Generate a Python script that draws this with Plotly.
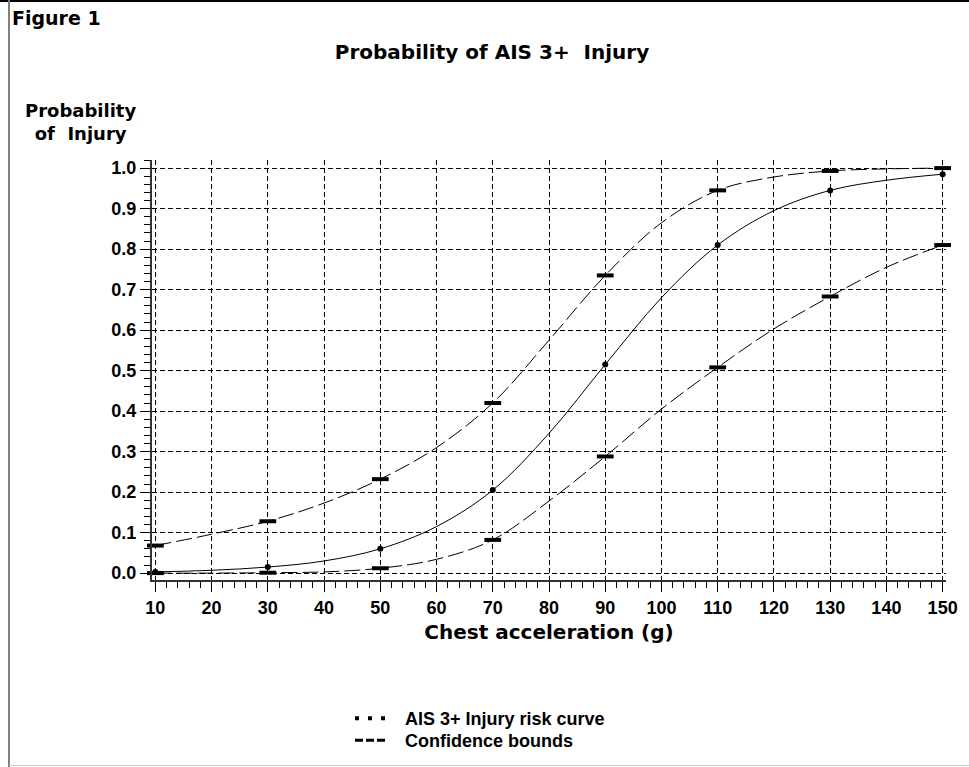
import plotly.graph_objects as go

# ---- data ----
accel = [10, 20, 30, 40, 50, 60, 70, 80, 90, 100, 110, 120, 130, 140, 150]
risk = [0.003, 0.007, 0.015, 0.030, 0.060, 0.115, 0.205, 0.345, 0.515, 0.680, 0.810, 0.895, 0.945, 0.970, 0.985]
upper = [0.068, 0.096, 0.128, 0.173, 0.232, 0.310, 0.420, 0.575, 0.735, 0.865, 0.945, 0.978, 0.993, 0.998, 1.000]
lower = [0.000, 0.000, 0.001, 0.003, 0.012, 0.034, 0.082, 0.178, 0.288, 0.405, 0.508, 0.603, 0.683, 0.755, 0.810]
x_ticks = [10, 20, 30, 40, 50, 60, 70, 80, 90, 100, 110, 120, 130, 140, 150]
y_ticks = [0.0, 0.1, 0.2, 0.3, 0.4, 0.5, 0.6, 0.7, 0.8, 0.9, 1.0]
legend_names = ["AIS 3+ Injury risk curve", "Confidence bounds"]

# markers are drawn at every other read point (10, 30, ..., 150)
mk_x = accel[::2]
mk_risk = risk[::2]
mk_upper = upper[::2]
mk_lower = lower[::2]

W, H = 969, 767
ML, MR, MT, MB = 152, 23, 160, 187
PW, PH = W - ML - MR, H - MT - MB


def px_x(p):
    return (p - ML) / PW


def px_y(p):
    return (H - MB - p) / PH


TXT = "DejaVu Sans"
NUM = "Liberation Sans"
PAD = "\u00a0\u00a0\u00a0"

fig = go.Figure()

bound_dash = "16px,5px"
for ys in (upper, lower):
    fig.add_trace(go.Scatter(x=accel, y=ys, mode="lines", line=dict(color="black", width=1, dash=bound_dash, shape="spline"),
                             showlegend=False, hoverinfo="skip"))
fig.add_trace(go.Scatter(x=accel, y=risk, mode="lines", line=dict(color="black", width=1, shape="spline"),
                         showlegend=False, hoverinfo="skip"))

for ys in (mk_upper, mk_lower):
    fig.add_trace(go.Scatter(x=mk_x, y=ys, mode="markers",
                             marker=dict(symbol="line-ew", size=12, line=dict(color="black", width=4)),
                             showlegend=False, cliponaxis=False))
fig.add_trace(go.Scatter(x=mk_x, y=mk_risk, mode="markers",
                         marker=dict(symbol="circle", size=6, color="black"),
                         showlegend=False, cliponaxis=False))

# legend entries (one legend per row for exact placement)
fig.add_trace(go.Scatter(x=[None], y=[None], mode="lines", name=PAD + legend_names[0], legend="legend",
                         line=dict(color="black", width=4, dash="4px,9px")))
fig.add_trace(go.Scatter(x=[None], y=[None], mode="lines", name=PAD + legend_names[1], legend="legend2",
                         line=dict(color="black", width=3, dash="8px,3px")))

axis_common = dict(
    showline=True, linecolor="#333333", linewidth=2,
    showgrid=True, gridcolor="black", gridwidth=1, griddash="5px,3px",
    zeroline=False, ticks="outside", ticklen=10, tickwidth=1, tickcolor="black",
    automargin=False,
    tickfont=dict(family=NUM, size=18, color="black", weight="bold"),
)

legend_common = dict(xanchor="left", yanchor="top", x=px_x(350),
                     font=dict(family=NUM, size=18, color="black", weight="bold"),
                     bgcolor="rgba(0,0,0,0)", itemwidth=30, tracegroupgap=0)

fig.update_layout(
    width=W, height=H,
    margin=dict(l=ML, r=MR, t=MT, b=MB, autoexpand=False),
    paper_bgcolor="white", plot_bgcolor="white",
    title=dict(text="Probability of AIS 3+\u00a0 Injury", x=492 / W, xref="container", xanchor="center",
               y=1 - 52 / H, yanchor="middle",
               font=dict(family=TXT, size=20, color="black", weight="bold")),
    xaxis=dict(range=[9.4, 150.6], tickvals=x_ticks,
               minor=dict(dtick=2, ticks="outside", ticklen=6, tickcolor="black", showgrid=False),
               title=dict(text="Chest acceleration (g)", standoff=8,
                          font=dict(family=TXT, size=20, color="black", weight="bold")),
               **axis_common),
    yaxis=dict(range=[-0.017, 1.02], tickvals=y_ticks, tickformat=".1f",
               minor=dict(dtick=0.02, ticks="outside", ticklen=6, tickcolor="black", showgrid=False),
               **axis_common),
    legend=dict(y=px_y(700), **legend_common),
    legend2=dict(y=px_y(722), **legend_common),
    annotations=[
        dict(text="Figure 1", x=px_x(10), y=px_y(18), xref="paper", yref="paper",
             xanchor="left", yanchor="middle", showarrow=False,
             font=dict(family=TXT, size=19, color="black", weight="bold")),
        dict(text="Probability<br>of\u00a0 Injury", x=px_x(80), y=px_y(122), xref="paper", yref="paper",
             xanchor="center", yanchor="middle", showarrow=False, align="center",
             font=dict(family=TXT, size=18, color="black", weight="bold")),
    ],
    shapes=[
        dict(type="line", xref="paper", yref="paper", x0=px_x(0), x1=px_x(W), y0=px_y(1), y1=px_y(1),
             line=dict(color="black", width=2)),
        dict(type="line", xref="paper", yref="paper", x0=px_x(9), x1=px_x(9), y0=px_y(0), y1=px_y(H),
             line=dict(color="#808080", width=2)),
        dict(type="line", xref="paper", yref="paper", x0=px_x(9), x1=px_x(W), y0=px_y(765.5), y1=px_y(765.5),
             line=dict(color="#c8c8c8", width=1)),
    ],
)

fig.write_html("out.html")
